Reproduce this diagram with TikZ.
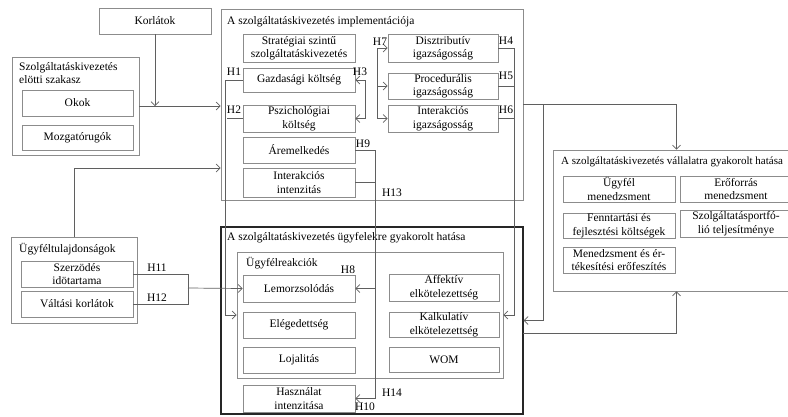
\documentclass[tikz,border=0pt]{standalone}
\usepackage{fontspec}
\setmainfont{Liberation Serif}
\usetikzlibrary{arrows.meta, positioning, calc}
\definecolor{boxgray}{RGB}{140,140,140}
\definecolor{linegray}{RGB}{95,95,95}

\begin{document}
\begin{tikzpicture}[x=1pt, y=-1pt,
  every node/.style={font=\fontsize{11.5}{13.5}\selectfont},
  frm/.style={draw=boxgray, line width=0.8pt, inner sep=0pt},
  bx/.style={draw=boxgray, line width=0.8pt, fill=white, align=center,
             inner sep=0pt, minimum width=112, minimum height=26},
  ttl/.style={anchor=west, align=left, inner sep=0pt},
  hyp/.style={inner sep=0pt},
  con/.style={draw=linegray, line width=0.7pt},
  >={Straight Barb[length=4pt, width=8pt]}]

  \useasboundingbox (0,0) rectangle (788,416);
  \clip (0,0) rectangle (788,416);

  % Frames
  \node[frm, minimum width=127, minimum height=98] (pre) at (75.5,106) {};
  \node[frm, minimum width=302, minimum height=191] (impl) at (372,104.5) {};
  \node[frm, draw=black!85, line width=1.3pt, minimum width=302, minimum height=187] (cust) at (372,320.5) {};
  \node[frm, minimum width=266, minimum height=126] (react) at (370,315) {};
  \node[frm, minimum width=239, minimum height=141] (firm) at (672.5,220.5) {};
  \node[frm, minimum width=126, minimum height=86] (traits) at (74,280) {};

  % Frame titles
  \node[ttl] (preT) at (19,73) {Szolgáltatáskivezetés\\elötti szakasz};
  \node[ttl] (implT) at (227,22) {A szolgáltatáskivezetés implementációja};
  \node[ttl] (custT) at (227,238) {A szolgáltatáskivezetés ügyfelekre gyakorolt hatása};
  \node[ttl] (reactT) at (246,263) {Ügyfélreakciók};
  \node[ttl, font=\fontsize{11}{13.5}\selectfont] (firmT) at (561,162) {A szolgáltatáskivezetés vállalatra gyakorolt hatása};
  \node[ttl] (traitsT) at (19,249) {Ügyféltulajdonságok};

  % Boxes
  \node[bx] (korlatok) at (155,21) {Korlátok};
  \node[bx, minimum width=111] (okok) at (77.5,103) {Okok};
  \node[bx, minimum width=111, minimum height=25] (mozgato) at (77.5,137.5) {Mozgatórugók};

  \node[bx, minimum height=28] (strat) at (299,48) {Stratégiai szintű\\szolgáltatáskivezetés};
  \node[bx, minimum height=24] (gazd) at (299,80) {Gazdasági költség};
  \node[bx, minimum height=27] (pszich) at (299,118.5) {Pszichológiai\\költség};
  \node[bx] (arem) at (299,150) {Áremelkedés};
  \node[bx, minimum height=29] (intint) at (299,182.5) {Interakciós\\intenzitás};
  \node[bx, minimum width=110, minimum height=28] (disz) at (443,48) {Disztributív\\igazságosság};
  \node[bx, minimum width=110] (proc) at (443,86) {Procedurális\\igazságosság};
  \node[bx, minimum width=110, minimum height=27] (inter) at (443,118.5) {Interakciós\\igazságosság};

  \node[bx, minimum height=27] (lemor) at (299,288.5) {Lemorzsolódás};
  \node[bx] (eleg) at (299,325) {Elégedettség};
  \node[bx] (lojal) at (299,360) {Lojalitás};
  \node[bx, minimum width=110, minimum height=27] (affekt) at (444,287.5) {Affektív\\elkötelezettség};
  \node[bx, minimum width=110, minimum height=25] (kalk) at (444,324.5) {Kalkulatív\\elkötelezettség};
  \node[bx, minimum width=110, minimum height=25] (wom) at (444,359.5) {WOM};
  \node[bx, minimum height=27] (hasznal) at (299,398.5) {Használat\\intenzitása};

  \node[bx] (szerz) at (77,274) {Szerzödés\\idötartama};
  \node[bx] (valt) at (77,304) {Váltási korlátok};

  \node[bx] (ugyfmen) at (619,189) {Ügyfél\\menedzsment};
  \node[bx] (eroforr) at (736,189) {Erőforrás\\menedzsment};
  \node[bx, minimum height=25] (fenntart) at (619,225.5) {Fenntartási és\\fejlesztési költségek};
  \node[bx, minimum height=27] (portf) at (736,223.5) {Szolgáltatásportfó-\\lió teljesítménye};
  \node[bx] (menert) at (619,260) {Menedzsment és ér-\\tékesítési erőfeszítés};

  % Junctions
  \coordinate (br) at (377,48);
  \coordinate (vr) at (375,150);
  \coordinate (tj) at (74,168);
  \coordinate (mj) at (188,288);
  \coordinate (ij) at (543,104.5);
  \coordinate (cj) at (523,333);

  % Connectors
  \draw[con,->] (korlatok.south) -- (korlatok.south |- pre.east);
  \draw[con,->] (pre.east) -- (pre.east -| impl.west);
  \draw[con,->] (gazd.west) -- ++(-17,0) |- (react.west);
  \draw[con] (pszich.west) -- ++(-16,0);
  \draw[con,<->] (gazd.east) -- ++(10,0) |- (pszich.east);
  \draw[con,->] (br) -- (disz.west);
  \draw[con,->] (br) |- (proc.west);
  \draw[con,->] (br) |- (inter.west);
  \draw[con,->] (disz.east) -- ++(16,0) |- (react.east);
  \draw[con] (proc.east) -- ++(16,0);
  \draw[con] (inter.east) -- ++(16,0);
  \draw[con] (arem.east) -- (vr);
  \draw[con] (intint.east) -- (intint.east -| vr);
  \draw[con,->] (vr) |- (lemor.east);
  \draw[con,->] (vr) |- (hasznal.east);
  \draw[con,->] (traits.north) -- (tj) -- (tj -| impl.west);
  \draw[con] (szerz.east) -| (mj);
  \draw[con] (valt.east) -| (mj);
  \draw[con,->] (mj) -- (lemor.west);
  \draw[con,->] (impl.east) -| ([xshift=4]firm.north);
  \draw[con,->] (ij) |- (cust.east);
  \draw[con,->] (cj) -| ([xshift=4]firm.south);

  % Hypothesis labels
  \node[hyp] (h1) at (234,72) {H1};
  \node[hyp] (h2) at (234,110) {H2};
  \node[hyp] (h3) at (360,72) {H3};
  \node[hyp] (h4) at (506,41) {H4};
  \node[hyp] (h5) at (506,76) {H5};
  \node[hyp] (h6) at (506,110) {H6};
  \node[hyp] (h7) at (380,42) {H7};
  \node[hyp] (h8) at (348,270) {H8};
  \node[hyp] (h9) at (363,144) {H9};
  \node[hyp] (h10) at (365,407) {H10};
  \node[hyp] (h11) at (157,268) {H11};
  \node[hyp] (h12) at (157,298) {H12};
  \node[hyp] (h13) at (392,193) {H13};
  \node[hyp] (h14) at (392,393) {H14};

\end{tikzpicture}
\end{document}
